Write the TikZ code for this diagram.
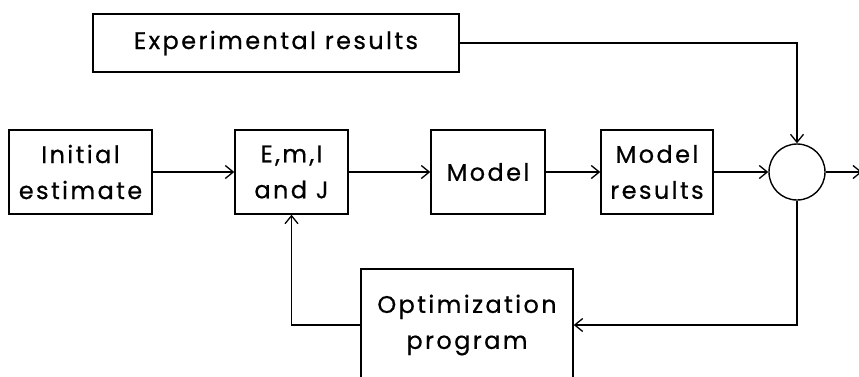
\documentclass[tikz,border=0pt]{standalone}
\usepackage{fontspec}
\setmainfont[LetterSpace=10,FakeBold=0.6]{Poppins}
\usetikzlibrary{arrows.meta}
\begin{document}
\begin{tikzpicture}[x=1pt,y=1pt,
  box/.style={draw,line width=1.4pt,rectangle,inner sep=0pt,align=center,
    font=\fontsize{24}{36}\selectfont},
  conn/.style={line width=1.3pt},
  arr/.style={conn,-{Straight Barb[length=8pt,width=13pt,line width=1.3pt]}}]
\useasboundingbox (0,0) rectangle (859,-376);
\clip (0,0) rectangle (859,-376);
\node[box,minimum width=366pt,minimum height=58pt] (exp) at (276,-43) {Experimental results};
\node[box,minimum width=143pt,minimum height=84pt] (init) at (80.5,-172) {Initial\\estimate};
\node[box,minimum width=113pt,minimum height=84pt] (emij) at (291.5,-172) {E,m,I\\and J};
\node[box,minimum width=114pt,minimum height=84pt] (model) at (488,-172) {Model};
\node[box,minimum width=112pt,minimum height=84pt] (mres) at (657,-172) {Model\\results};
\node[draw,line width=1.4pt,circle,minimum size=56pt,inner sep=0pt] (sum) at (797,-172) {};
\node[box,minimum width=212pt,minimum height=112pt] (opt) at (467,-325) {Optimization\\program};
\coordinate (out) at (862,-172);
\draw[arr] (init) -- (emij);
\draw[arr] (emij) -- (model);
\draw[arr] (model) -- (mres);
\draw[arr] (mres) -- (sum);
\draw[arr] (sum) -- (out);
\draw[arr] (exp.east) -| (sum.north);
\draw[arr] (sum.south) |- (opt.east);
\draw[arr] (opt.west) -| (emij.south);
\end{tikzpicture}
\end{document}
